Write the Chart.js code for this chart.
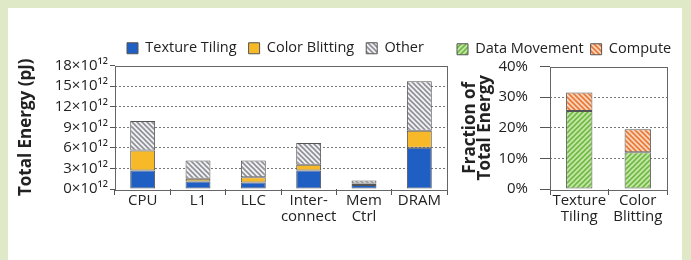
<!DOCTYPE html>
<html>
<head>
<meta charset="utf-8">
<script src="https://cdn.jsdelivr.net/npm/chart.js@4"></script>
<style>
  body { margin: 0; background: #dfe9c8; width: 691px; height: 260px; overflow: hidden; }
  #panel { position: absolute; left: 8px; top: 8px; width: 674px; height: 252px; background: #fff; }
  canvas { position: absolute; top: 0; }
  #energy { left: 0; }
  #fraction { left: 450px; }
</style>
</head>
<body>
<div id="panel"></div>
<canvas id="energy" width="460" height="260"></canvas>
<canvas id="fraction" width="241" height="260"></canvas>
<script>
// left chart: total energy per component (x10^12 pJ)
const parts = ["CPU", "L1", "LLC", ["Inter-", "connect"], ["Mem", "Ctrl"], "DRAM"];
const textureTiling = [2.7, 1.1, 0.95, 2.7, 0.6, 6.0];
const colorBlitting = [2.9, 0.4, 0.75, 0.85, 0.2, 2.5];
const otherEnergy = [4.3, 2.65, 2.45, 3.15, 0.45, 7.2];

// right chart: fraction of total energy (%)
const workloads = [["Texture", "Tiling"], ["Color", "Blitting"]];
const dataMovement = [25.5, 12];
const compute = [6, 7.5];

const FONT = "'Open Sans', sans-serif";
const INK = "#222";

const hatch = (bg, fg, dir) => {
  const s = 5;
  const c = document.createElement("canvas");
  c.width = s;
  c.height = s;
  const g = c.getContext("2d");
  g.fillStyle = bg;
  g.fillRect(0, 0, s, s);
  g.strokeStyle = fg;
  g.lineWidth = 1.6;
  g.beginPath();
  if (dir === "/") {
    g.moveTo(0, s); g.lineTo(s, 0);
    g.moveTo(-1, 1); g.lineTo(1, -1);
    g.moveTo(s - 1, s + 1); g.lineTo(s + 1, s - 1);
  } else {
    g.moveTo(0, 0); g.lineTo(s, s);
    g.moveTo(-1, s - 1); g.lineTo(1, s + 1);
    g.moveTo(s - 1, -1); g.lineTo(s + 1, 1);
  }
  g.stroke();
  return g.createPattern(c, "repeat");
};

const frame = {
  id: "frame",
  afterDraw(chart) {
    const { ctx, chartArea: a } = chart;
    ctx.save();
    ctx.strokeStyle = "#666";
    ctx.lineWidth = 1;
    ctx.strokeRect(Math.round(a.left) + 0.5, Math.round(a.top) + 0.5,
      Math.round(a.right - a.left), Math.round(a.bottom - a.top));
    ctx.restore();
  }
};

const barSet = (label, data, color) => ({
  label: label,
  data: data,
  backgroundColor: color,
  borderColor: "#555",
  borderWidth: 1,
  borderSkipped: false,
  barPercentage: 0.9,
  categoryPercentage: 0.5
});

const axes = (max, step, fmt, title, yWidth, rightGap, o) => ({
  x: {
    stacked: true,
    offset: true,
    afterFit: s => { s.height = 71; },
    grid: { display: true, drawOnChartArea: false, offset: true, tickLength: 6, color: "#555" },
    border: { display: false },
    ticks: { color: INK, padding: -2, maxRotation: 0, autoSkip: false,
      font: { family: FONT, size: 15, lineHeight: 1.05 } }
  },
  y: {
    stacked: true,
    min: 0,
    max: max,
    afterFit: s => { s.width = yWidth; },
    grid: {
      color: c => (c.tick.value === 0 || c.tick.value === max) ? "rgba(0,0,0,0)" : "#777",
      tickColor: "#555",
      tickLength: o.tickLength
    },
    border: { display: false, dash: [2, 2] },
    ticks: { stepSize: step, autoSkip: false, color: INK, padding: o.labelPad, callback: fmt,
      font: { family: FONT, size: 15 } },
    title: { display: true, text: title, color: INK, padding: { top: o.pad, bottom: 0 },
      font: { family: FONT, size: 17, weight: "bold", lineHeight: o.lh } }
  },
  // empty strip on the right, keeps the plot narrow without narrowing the legend
  gap: {
    position: "right",
    afterFit: s => { s.width = rightGap; },
    grid: { display: false },
    border: { display: false },
    ticks: { display: false }
  }
});

new Chart(document.getElementById("energy"), {
  type: "bar",
  data: {
    labels: parts,
    datasets: [
      barSet("Texture Tiling", textureTiling, "#1f5fc4"),
      barSet("Color Blitting", colorBlitting, "#f7b928"),
      barSet("Other", otherEnergy, hatch("#f2f2f2", "#8e8e98", "\\"))
    ]
  },
  options: {
    responsive: false,
    animation: false,
    layout: { padding: { left: 12, top: 29, right: 0, bottom: 0 } },
    plugins: {
      legend: {
        fullSize: false,
        align: "start",
        labels: { color: INK, boxWidth: 11, boxHeight: 11, padding: 12,
          font: { family: FONT, size: 14.5 } }
      },
      tooltip: { enabled: false }
    },
    scales: axes(18, 3, v => v + "×10¹²", "Total Energy (pJ)", 103, 13,
      { pad: 4, lh: 1.2, tickLength: 5, labelPad: 2 })
  },
  plugins: [frame]
});

new Chart(document.getElementById("fraction"), {
  type: "bar",
  data: {
    labels: workloads,
    datasets: [
      barSet("Data Movement", dataMovement, hatch("#c4e6a4", "#6fb845", "/")),
      barSet("Compute", compute, hatch("#fcd6b8", "#e8773a", "\\"))
    ]
  },
  options: {
    responsive: false,
    animation: false,
    layout: { padding: { left: 0, top: 35, right: 0, bottom: 0 } },
    plugins: {
      legend: {
        align: "start",
        labels: { color: INK, boxWidth: 11, boxHeight: 11, padding: 7,
          font: { family: FONT, size: 14.5 } }
      },
      tooltip: { enabled: false }
    },
    scales: axes(40, 10, v => v + "%", ["Fraction of", "Total Energy"], 100, 24,
      { pad: 13, lh: 0.85, tickLength: 10, labelPad: 12 })
  },
  plugins: [frame]
});
</script>
</body>
</html>
